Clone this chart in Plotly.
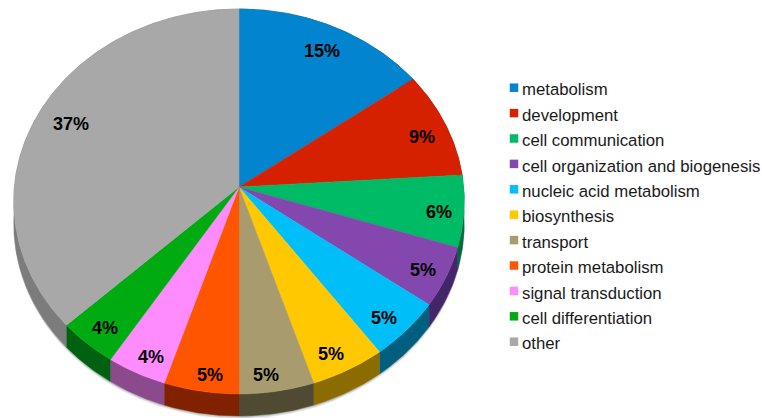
import math
import plotly.graph_objects as go

# Gene ontology categories, percentages, and slice colours
categories = ["metabolism", "development", "cell communication",
              "cell organization and biogenesis", "nucleic acid metabolism",
              "biosynthesis", "transport", "protein metabolism",
              "signal transduction", "cell differentiation", "other"]
values = [15, 9, 6, 5, 5, 5, 5, 5, 4, 4, 37]
top_colors = ["#0284ce", "#d62100", "#00bb66", "#8447ad", "#00bff8", "#ffc800",
              "#a89c6e", "#ff5500", "#ff8cff", "#00aa11", "#a8a8a8"]
wall_colors = ["#014a75", "#7a1300", "#006b3a", "#43256a", "#005f7f", "#8a6c00",
               "#504a33", "#802200", "#8a4a8c", "#006210", "#7c7c7c"]
# Where each percentage sits: share of the radius, and degrees turned from the slice's middle
label_reach = [0.86, 0.88, 0.89, 0.89, 0.885, 0.89, 0.91, 0.91, 0.90, 0.89, 0.845]
label_turn = [0, 1, 0, 0, 1.2, 1.5, 2, -1.5, -1, 0, 1.3]

# Tilted-disc projection of the pie, in pixels
CX, CY = 239, 187
RX, RY = 224.6, 191.4
TILT = 0.0753
DEPTH = 22

# Colour key layout
KEY_X, KEY_TOP, KEY_PITCH = 514, 87.7, 25.4
KEY_TEXT_X, KEY_TEXT_DY = 522, 2.2


def project(theta, reach=1.0):
    """Map a clockwise angle from twelve o'clock on the disc to the page."""
    u = reach * math.sin(theta)
    v = reach * math.cos(theta)
    w = 1 + TILT * v
    return CX + RX * u / w, CY - RY * v / w


def arc(start, end):
    steps = max(2, int(abs(end - start) / 0.01))
    return [project(start + (end - start) * i / steps) for i in range(steps + 1)]


total = sum(values)
edges = [0.0]
for value in values:
    edges.append(edges[-1] + value / total * 2 * math.pi)

fig = go.Figure()

# Soft shadow under the near edge of the pie
for offset, alpha in ((DEPTH + 3, 0.10), (DEPTH + 2, 0.14), (DEPTH + 1, 0.18)):
    rim = arc(math.pi * 0.5, math.pi * 1.5)
    xs = [p[0] for p in rim] + [p[0] for p in reversed(rim)]
    ys = [p[1] + offset for p in rim] + [p[1] for p in reversed(rim)]
    fig.add_trace(go.Scatter(x=xs, y=ys, mode="lines", fill="toself",
                             fillcolor=f"rgba(60,60,60,{alpha})",
                             line=dict(width=0), hoverinfo="skip"))

# Side walls of the pie
for name, start, end, color in zip(categories, edges, edges[1:], wall_colors):
    rim = arc(start, end)
    xs = [p[0] for p in rim] + [p[0] for p in reversed(rim)]
    ys = [p[1] + DEPTH for p in rim] + [p[1] for p in reversed(rim)]
    fig.add_trace(go.Scatter(x=xs, y=ys, mode="lines", fill="toself", fillcolor=color,
                             line=dict(width=0.5, color=color), hoverinfo="skip"))

# Top surface of each slice
for name, value, start, end, color in zip(categories, values, edges, edges[1:], top_colors):
    rim = arc(start, end)
    xs = [CX] + [p[0] for p in rim] + [CX]
    ys = [CY] + [p[1] for p in rim] + [CY]
    fig.add_trace(go.Scatter(x=xs, y=ys, mode="lines", fill="toself", fillcolor=color,
                             line=dict(width=0.5, color=color), name=name,
                             hovertemplate=f"{name}: {value}%<extra></extra>"))

# Percentage labels
for value, start, end, reach, turn in zip(values, edges, edges[1:], label_reach, label_turn):
    x, y = project((start + end) / 2 + math.radians(turn), reach)
    fig.add_annotation(x=x, y=y, yshift=-3, text=f"<b>{value}%</b>", showarrow=False,
                       font=dict(family="Liberation Sans", size=18, color="#000000"))

# Colour key
key_rows = [KEY_TOP + i * KEY_PITCH for i in range(len(categories))]
fig.add_trace(go.Scatter(x=[KEY_X] * len(categories), y=key_rows, mode="markers",
                         marker=dict(symbol="square", size=8.5, color=top_colors),
                         hoverinfo="skip"))
for name, row in zip(categories, key_rows):
    fig.add_annotation(x=KEY_TEXT_X, y=row + KEY_TEXT_DY, text=name, showarrow=False,
                       xanchor="left", xshift=-2,
                       font=dict(family="Liberation Sans", size=16.75, color="#1a1a1a"))

fig.update_xaxes(range=[0, 762], visible=False, fixedrange=True)
fig.update_yaxes(range=[418, 0], visible=False, fixedrange=True)
fig.update_layout(width=762, height=418, margin=dict(l=0, r=0, t=0, b=0),
                  showlegend=False, paper_bgcolor="white", plot_bgcolor="white")

fig.write_html("out.html")
